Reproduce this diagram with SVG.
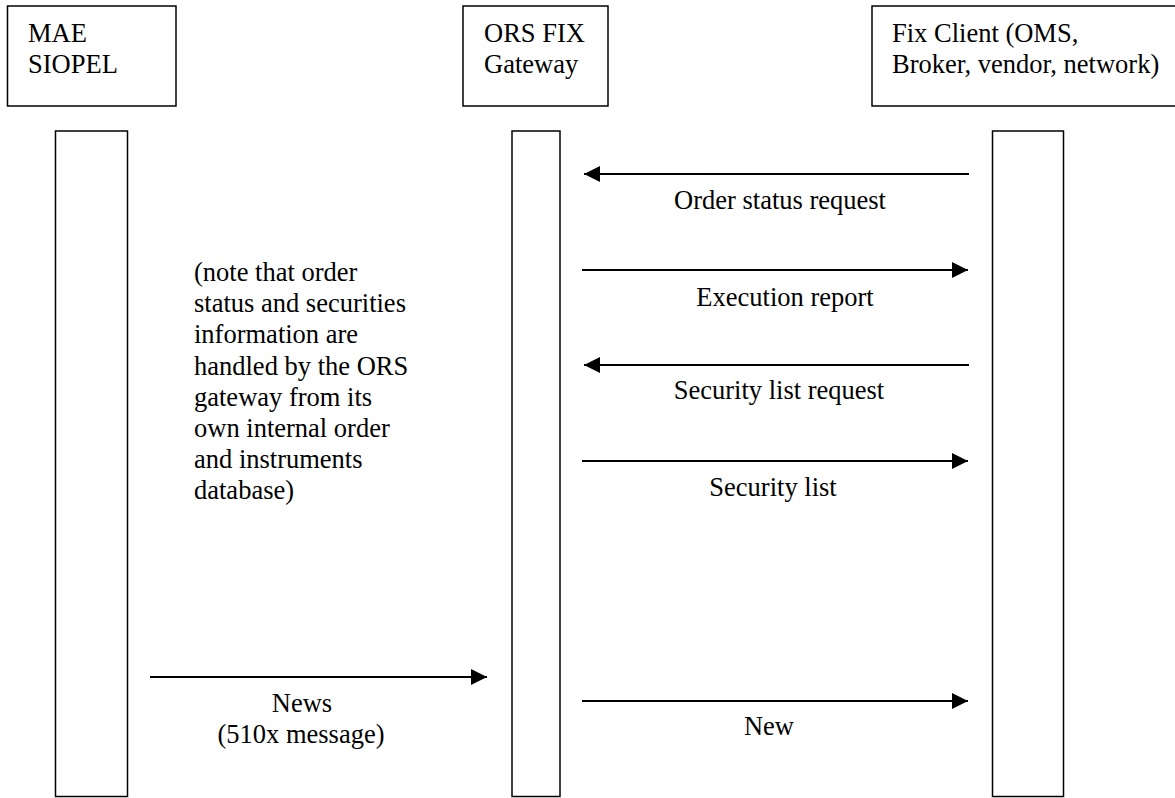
<svg xmlns="http://www.w3.org/2000/svg" width="1175" height="798" viewBox="0 0 1175 798">
<defs>
<style>
text{font-family:"Liberation Serif","Times New Roman",serif;font-size:26.5px;fill:#000}
.box{fill:#fff;stroke:#000;stroke-width:1.5}
.c{text-anchor:middle}
.msg{stroke:#000;stroke-width:2.2;fill:none}
</style>
<marker id="ah" markerWidth="16" markerHeight="16" refX="16" refY="8" orient="auto" markerUnits="userSpaceOnUse">
<path d="M0,0 L16,8 L0,16 Z" fill="#000"/>
</marker>
</defs>
<rect width="1175" height="798" fill="#fff"/>
<g id="mae">
<rect class="box" x="7.5" y="6" width="168.5" height="100"/>
<text x="28" y="42">MAE</text>
<text x="28" y="73">SIOPEL</text>
</g>
<g id="ors">
<rect class="box" x="463" y="6" width="145" height="100"/>
<text x="484" y="42">ORS FIX</text>
<text x="484" y="73">Gateway</text>
</g>
<g id="client">
<rect class="box" x="872" y="6" width="320" height="100"/>
<text x="892" y="42">Fix Client (OMS,</text>
<text x="892" y="73">Broker, vendor, network)</text>
</g>
<g id="mae-life">
<rect class="box" x="55.5" y="131" width="72" height="665.5"/>
</g>
<g id="ors-life">
<rect class="box" x="512" y="131" width="48" height="665.5"/>
</g>
<g id="client-life">
<rect class="box" x="992.5" y="131" width="71" height="665.5"/>
</g>
<g id="note">
<text x="194" y="281">(note that order</text>
<text x="194" y="312">status and securities</text>
<text x="194" y="343">information are</text>
<text x="194" y="375">handled by the ORS</text>
<text x="194" y="406">gateway from its</text>
<text x="194" y="437">own internal order</text>
<text x="194" y="468">and instruments</text>
<text x="194" y="499">database)</text>
</g>
<g id="connectors">
<line class="msg" x1="969" y1="174" x2="584" y2="174" marker-end="url(#ah)"/>
<text class="c" x="780" y="209">Order status request</text>
<line class="msg" x1="582" y1="270" x2="968" y2="270" marker-end="url(#ah)"/>
<text class="c" x="785" y="306">Execution report</text>
<line class="msg" x1="969" y1="365" x2="584" y2="365" marker-end="url(#ah)"/>
<text class="c" x="779" y="399">Security list request</text>
<line class="msg" x1="582" y1="461" x2="968" y2="461" marker-end="url(#ah)"/>
<text class="c" x="773" y="496">Security list</text>
<line class="msg" x1="150" y1="677" x2="487" y2="677" marker-end="url(#ah)"/>
<text class="c" x="302" y="712">News</text>
<text class="c" x="301" y="743">(510x message)</text>
<line class="msg" x1="582" y1="701" x2="968" y2="701" marker-end="url(#ah)"/>
<text class="c" x="769" y="735">New</text>
</g>
</svg>
